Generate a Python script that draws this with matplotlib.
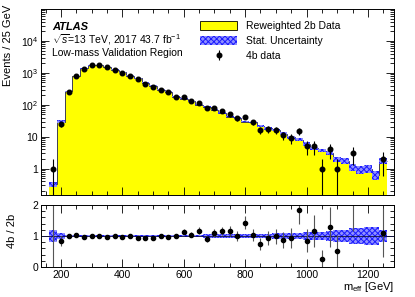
import numpy as np
import matplotlib
matplotlib.use('Agg')
import matplotlib.pyplot as plt
from matplotlib.patches import Patch
from matplotlib.ticker import FixedLocator, MultipleLocator, LogLocator, NullFormatter

plt.rcParams['font.family'] = ['Liberation Sans', 'DejaVu Sans']
plt.rcParams['mathtext.fontset'] = 'custom'
plt.rcParams['mathtext.rm'] = 'Liberation Sans'
plt.rcParams['mathtext.it'] = 'Liberation Sans:italic'
plt.rcParams['mathtext.bf'] = 'Liberation Sans:bold'
plt.rcParams['hatch.linewidth'] = 0.7

# bin centres (25 GeV bins) in m_eff
m_eff = [175, 200, 225, 250, 275, 300, 325, 350, 375, 400, 425, 450, 475, 500,
         525, 550, 575, 600, 625, 650, 675, 700, 725, 750, 775, 800, 825, 850,
         875, 900, 925, 950, 975, 1000, 1025, 1050, 1075, 1100, 1125, 1150,
         1175, 1200, 1225, 1250]
bin_width = 25

# reweighted 2b prediction
pred_2b = [0.32, 30, 265, 800, 1400, 1740, 1780, 1540, 1260, 1050, 805, 670,
           487, 392, 300, 260, 178, 153, 130, 101, 87, 70, 56, 43, 38, 30, 28,
           21.7, 18.3, 16.2, 12.6, 9.6, 8.1, 5.9, 4.3, 3.7, 3.1, 1.95, 1.8,
           1.1, 0.93, 1.0, 0.65, 1.8]

# relative stat. uncertainty on the 2b prediction
rel_unc = [0.19, 0.09, 0.04, 0.03, 0.03, 0.025, 0.025, 0.025, 0.03, 0.03,
           0.03, 0.03, 0.035, 0.035, 0.035, 0.035, 0.04, 0.04, 0.04, 0.045,
           0.05, 0.05, 0.055, 0.06, 0.06, 0.065, 0.07, 0.075, 0.08, 0.085,
           0.09, 0.1, 0.11, 0.12, 0.13, 0.13, 0.15, 0.18, 0.2, 0.25, 0.27,
           0.28, 0.3, 0.2]

# observed 4b events
data_4b = [1, 25, 261, 824, 1362, 1740, 1780, 1510, 1240, 1020, 805, 630, 463,
           365, 300, 250, 178, 174, 136, 118, 79, 77, 65, 50, 38, 43, 29, 16,
           17, 16, 11, 9, 15, 5, 5, 1, 4, 1, 0, 3, 0, 0, 0, 2]

x = np.array(m_eff, dtype=float)
pred = np.array(pred_2b)
unc = np.array(rel_unc)
data = np.array(data_4b, dtype=float)
edges = np.append(x - bin_width / 2, x[-1] + bin_width / 2)

band_col = '#1a1aff'
band_face = '#9090ff'
hatch = 'xxxxxx'

fig = plt.figure(figsize=(4.15, 2.97), dpi=100)
ax = fig.add_axes([41 / 415, 1 - 195 / 297, 353 / 415, 186 / 297])
axr = fig.add_axes([41 / 415, 1 - 267 / 297, 353 / 415, 62 / 297])

# ---- top panel
ax.stairs(pred, edges, baseline=1e-3, fill=True, color='#ffff00', lw=0)
ax.stairs(pred, edges, baseline=None, color='#202060', lw=0.6)
ax.stairs(pred * (1 + unc), edges, baseline=pred * (1 - unc), fill=True,
          facecolor=band_face, edgecolor=band_col, hatch=hatch, lw=0)

m = data > 0
err = np.sqrt(data[m])
lo = np.minimum(err, data[m] - 1e-3)
eb = ax.errorbar(x[m], data[m], yerr=[lo, err], fmt='o', ms=3.3, color='k',
                 elinewidth=0.8, capsize=0)

ax.set_yscale('log')
ax.set_xlim(135, 1285)
ax.set_ylim(0.15, 1e5)
ax.yaxis.set_major_locator(FixedLocator([1, 10, 100, 1e3, 1e4]))
ax.set_yticklabels(['1', '10', r'$10^{2}$', r'$10^{3}$', r'$10^{4}$'])
ax.yaxis.set_minor_locator(LogLocator(base=10, subs=np.arange(2, 10)))
ax.yaxis.set_minor_formatter(NullFormatter())
ax.xaxis.set_major_locator(MultipleLocator(200))
ax.xaxis.set_minor_locator(MultipleLocator(50))
ax.set_xticklabels([])

ax.text(0.031, 0.905, 'ATLAS', transform=ax.transAxes, fontsize=8,
        fontweight='bold', fontstyle='italic', va='center')
ax.text(0.031, 0.835, r'$\sqrt{s}$=13 TeV, 2017 43.7 fb$^{-1}$',
        transform=ax.transAxes, fontsize=7.5, va='center')
ax.text(0.031, 0.762, 'Low-mass Validation Region', transform=ax.transAxes,
        fontsize=7.5, va='center')

handles = [Patch(facecolor='#ffff00', edgecolor='k', lw=0.6),
           Patch(facecolor=band_face, edgecolor=band_col, hatch=hatch, lw=0),
           eb]
labels = ['Reweighted 2b Data', 'Stat. Uncertainty', '4b data']
ax.legend(handles, labels, loc='upper left', bbox_to_anchor=(0.45, 0.935),
          frameon=False, fontsize=7.5, handlelength=3.6, handleheight=1.0,
          handletextpad=0.8, labelspacing=0.45, borderpad=0, borderaxespad=0)

# ---- ratio panel
axr.stairs(1 + unc, edges, baseline=1 - unc, fill=True, facecolor=band_face,
           edgecolor=band_col, hatch=hatch, lw=0)
axr.axhline(1, color='#101040', lw=0.6)
ratio = data[m] / pred[m]
rerr = np.sqrt(data[m]) / pred[m]
axr.errorbar(x[m], ratio, yerr=rerr, fmt='o', ms=3.0, color='k',
             ecolor='#555555', elinewidth=0.8, capsize=0)
axr.set_xlim(135, 1285)
axr.set_ylim(0, 2)
axr.yaxis.set_major_locator(FixedLocator([0, 1, 2]))
axr.yaxis.set_minor_locator(MultipleLocator(0.2))
axr.xaxis.set_major_locator(MultipleLocator(200))
axr.xaxis.set_minor_locator(MultipleLocator(50))

for a in (ax, axr):
    a.tick_params(which='both', direction='in', top=True, right=True,
                  labelsize=7.5, width=0.6, pad=2)
    a.tick_params(which='major', length=6)
    a.tick_params(which='minor', length=3)
    for s in a.spines.values():
        s.set_linewidth(0.7)

fig.text(8 / 415, 1 - 5 / 297, 'Events / 25 GeV', rotation=90, ha='center',
         va='top', fontsize=8)
fig.text(12 / 415, 1 - 231 / 297, '4b / 2b', rotation=90, ha='center',
         va='center', fontsize=8)
fig.text(394 / 415, 1 - 287 / 297, r'm$_{\rm eff}$ [GeV]', ha='right',
         va='center', fontsize=8)

fig.savefig('out.png', dpi=100)
